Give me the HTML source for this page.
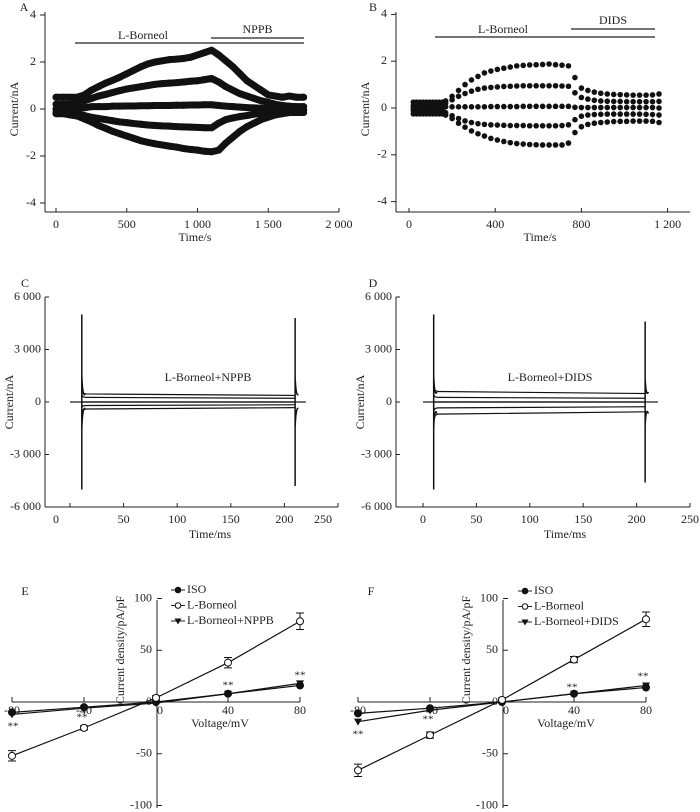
<!DOCTYPE html>
<html><head><meta charset="utf-8">
<style>
html,body{margin:0;padding:0;background:#fff;}
svg{display:block;font-family:"Liberation Serif",serif;}
</style></head>
<body>
<svg id="fig" width="700" height="812" viewBox="0 0 700 812" xmlns="http://www.w3.org/2000/svg"></svg>
<script>
// ---- Panel A data (time s, current nA) ----
const timesA = [0,50,100,150,200,250,300,350,400,450,500,550,600,650,700,750,800,850,900,950,1000,1050,1100,1150,1200,1250,1300,1350,1400,1450,1500,1550,1600,1650,1700,1750];
const a1 = [.5,.5,.5,.5,.6,.8,.95,1.1,1.22,1.35,1.5,1.65,1.8,1.92,2.0,2.05,2.1,2.12,2.15,2.2,2.3,2.4,2.5,2.3,2.05,1.8,1.5,1.2,1.0,.8,.6,.55,.5,.55,.5,.5];
const a2 = [.2,.2,.2,.25,.35,.45,.55,.62,.7,.78,.85,.9,.95,1.0,1.05,1.08,1.1,1.12,1.15,1.18,1.2,1.25,1.3,1.15,.95,.8,.65,.55,.45,.35,.28,.2,.15,.12,.1,.1];
const a3 = [0,.05,0,.05,.05,.1,.1,.1,.12,.12,.13,.13,.14,.14,.15,.15,.15,.16,.16,.17,.17,.18,.18,.15,.12,.1,.08,.06,.05,.03,0,-.05,0,.05,0,0];
const a4 = [-.15,-.15,-.15,-.2,-.28,-.35,-.4,-.45,-.5,-.55,-.58,-.62,-.65,-.68,-.7,-.72,-.73,-.75,-.76,-.77,-.78,-.8,-.8,-.6,-.45,-.38,-.32,-.28,-.22,-.18,-.12,-.1,-.08,-.06,-.05,-.05];
const a5 = [-.2,-.2,-.25,-.3,-.42,-.55,-.7,-.82,-.95,-1.05,-1.15,-1.25,-1.35,-1.42,-1.48,-1.53,-1.58,-1.62,-1.68,-1.72,-1.75,-1.8,-1.82,-1.75,-1.45,-1.2,-.95,-.75,-.6,-.45,-.35,-.25,-.2,-.15,-.15,-.15];
const ticksAx = [0,500,1000,1500,2000];
const tickLabelsAx = ["0","500","1 000","1 500","2 000"];
const ticksY4 = [4,2,0,-2,-4];
// ---- Panel B data ----
const timesB = [20,35,50,65,80,95,110,125,140,155,170,200,230,260,290,320,350,380,410,440,470,500,530,560,590,620,650,680,710,740,770,800,830,860,890,920,950,980,1010,1040,1070,1100,1130,1160];
const b1 = [.25,.25,.25,.25,.25,.25,.25,.25,.25,.25,.3,.5,.75,1.0,1.2,1.35,1.5,1.58,1.65,1.7,1.75,1.8,1.82,1.84,1.85,1.86,1.88,1.85,1.83,1.8,1.3,.85,.75,.68,.63,.6,.58,.57,.56,.55,.55,.55,.56,.6];
const b2 = [.1,.1,.1,.1,.1,.1,.1,.1,.12,.12,.2,.35,.5,.62,.72,.8,.85,.88,.9,.92,.93,.94,.95,.95,.95,.95,.95,.95,.94,.93,.65,.45,.38,.33,.3,.29,.28,.28,.27,.27,.27,.27,.27,.28];
const b3 = [0,.05,0,.05,0,.05,0,.05,0,.05,.05,.05,.05,.05,.05,.05,.05,.06,.06,.06,.06,.06,.07,.07,.07,.07,.07,.07,.07,.07,.03,.02,.02,.02,.02,.02,.02,.02,.02,.02,.02,.02,.02,0];
const b4 = [-.1,-.1,-.1,-.1,-.1,-.1,-.1,-.1,-.12,-.12,-.2,-.33,-.45,-.55,-.62,-.67,-.7,-.72,-.73,-.74,-.75,-.75,-.75,-.76,-.76,-.76,-.76,-.76,-.75,-.72,-.5,-.35,-.3,-.28,-.27,-.26,-.26,-.26,-.26,-.26,-.26,-.27,-.28,-.3];
const b5 = [-.25,-.25,-.25,-.25,-.25,-.25,-.25,-.25,-.25,-.25,-.3,-.45,-.65,-.82,-.98,-1.1,-1.2,-1.3,-1.37,-1.43,-1.48,-1.52,-1.54,-1.56,-1.57,-1.58,-1.58,-1.58,-1.58,-1.5,-1.05,-.8,-.7,-.65,-.62,-.6,-.58,-.57,-.57,-.56,-.56,-.56,-.57,-.62];
const ticksBx = [0,400,800,1200];
const tickLabelsBx = ["0","400","800","1 200"];
// ---- Panels C/D data ----
const levelsC = [440,250,0,-190,-380];
const levelsD = [570,250,0,-320,-660];
const spikeTimesC = [11,210];
const spikePeaksC = [5000,4800];
const spikeTimesD = [10,208];
const spikePeaksD = [5000,4600];
const ticksCDy = [6000,3000,0,-3000,-6000];
const tickLabelsCDy = ["6 000","3 000","0","-3 000","-6 000"];
const ticksCDx = [0,50,100,150,200,250];
// ---- Panels E/F data ----
const voltages = [-80,-40,0,40,80];
const isoE = [-10,-5,0,8,16];
const borE = [-52,-25,4,38,78];
const nppbE = [-12,-6,-1,8,18];
const errE = [5,2,2,5,8];
const isoF = [-11,-6,0,8,14];
const borF = [-66,-32,2,41,80];
const didsF = [-19,-8,0,8,16];
const errF = [6,3,2,3,7];
const ticksEFy = [100,50,0,-50,-100];

const NS = "http://www.w3.org/2000/svg";
const svg = document.getElementById('fig');
function el(tag, attrs, parent){
  const e = document.createElementNS(NS, tag);
  for (const k in attrs) e.setAttribute(k, attrs[k]);
  (parent||svg).appendChild(e);
  return e;
}
function txt(x,y,s,name,opts){
  opts = opts||{};
  const t = el('text',{x:x,y:y,'font-size':opts.fs||12,'text-anchor':opts.anchor||'middle','dominant-baseline':'middle',fill:'#222'});
  if (opts.rot) t.setAttribute('transform','rotate(-90 '+x+' '+y+')');
  t.textContent = s;
  
  
  return t;
}
function line(x1,y1,x2,y2,name,w){
  const l = el('line',{x1:x1,y1:y1,x2:x2,y2:y2,stroke:'#222','stroke-width':w||1});
  
  
  return l;
}

// ===== Panel A / B (time courses) =====
function timePanel(p){
  line(p.ax,12,p.ax,212,p.id+'-y-axis');
  line(p.ax,212,p.axEnd,212,p.id+'-x-axis');
  ticksY4.forEach(v=>{ line(p.ax-5,p.y(v),p.ax,p.y(v),p.id+'-y-tick'); txt(p.ax-9,p.y(v),String(v),p.id+'-y-tick-label',{anchor:'end'}); });
  p.xt.forEach((v,i)=>{ line(p.x(v),208,p.x(v),212,p.id+'-x-tick'); txt(p.x(v),225,p.xl[i],p.id+'-x-tick-label'); });
  txt(p.ax-30,109,'Current/nA',p.id+'-y-axis-title',{rot:true});
  txt(p.titleX,238,'Time/s',p.id+'-x-axis-title');
  txt(p.labX,8,p.id.toUpperCase(),'panel-label-'+p.id);
  p.series.forEach((s,si)=>{
    const pts = p.times.map((t,i)=>p.x(t)+','+p.y(s[i])).join(' ');
    if (p.thick){
      const pl = el('polyline',{points:pts,fill:'none',stroke:'#111','stroke-width':7,'stroke-linejoin':'round','stroke-linecap':'round'});
      
      
    }
    p.times.forEach((t,i)=>{
      const c = el('circle',{cx:p.x(t),cy:p.y(s[i]),r:p.thick?3.5:2.8,fill:'#111'});
      
      
    });
  });
  line(p.bar1[0],p.bar1[2],p.bar1[1],p.bar1[2],p.id+'-l-borneol-bar',1.3);
  line(p.bar2[0],p.bar2[2],p.bar2[1],p.bar2[2],p.id+'-'+p.drug.toLowerCase()+'-bar',1.3);
  txt((p.bar1[0]+p.bar2[0])/2,p.bar1[2]-7,'L-Borneol',p.id+'-l-borneol-label');
  txt((p.bar2[0]+p.bar2[1])/2,p.bar2[2]-8,p.drug,p.id+'-drug-label');
}
timePanel({id:'a',ax:45,axEnd:339,x:t=>56+t*0.1415,y:v=>109-v*23.5,xt:ticksAx,xl:tickLabelsAx,titleX:195,labX:24,
  times:timesA,series:[a1,a2,a3,a4,a5],thick:true,bar1:[75,304,43],bar2:[211,304,38],drug:'NPPB'});
timePanel({id:'b',ax:396,axEnd:690,x:t=>409+t*0.2155,y:v=>108-v*23.4,xt:ticksBx,xl:tickLabelsBx,titleX:540,labX:373,
  times:timesB,series:[b1,b2,b3,b4,b5],thick:false,bar1:[435,655,37],bar2:[571,655,29],drug:'DIDS'});

// ===== Panel C / D (current traces) =====
function tracePanel(p){
  const y = v=>402-v*0.0175;
  line(p.ax,297,p.ax,507,p.id+'-y-axis');
  line(p.ax,507,p.axEnd,507,p.id+'-x-axis');
  ticksCDy.forEach((v,i)=>{ line(p.ax,y(v),p.ax+4,y(v),p.id+'-y-tick'); txt(p.ax-4,y(v),tickLabelsCDy[i],p.id+'-y-tick-label',{anchor:'end'}); });
  ticksCDx.forEach((v,i)=>{ line(p.x(v),503,p.x(v),507,p.id+'-x-tick'); txt(p.lx?p.lx(v,i):p.x(v),520,String(v),p.id+'-x-tick-label'); });
  txt(p.ax-35,402,'Current/nA',p.id+'-y-axis-title',{rot:true});
  txt(p.titleX,535,'Time/ms',p.id+'-x-axis-title');
  txt(p.labX,284,p.id.toUpperCase(),'panel-label-'+p.id);
  txt(p.textX,378,p.title,p.id+'-condition-label');
  const t0 = p.sp[0], t1 = p.sp[1];
  line(p.x(0),y(0),p.x(220),y(0),p.id+'-baseline-trace',1.3);
  p.levels.forEach((L,i)=>{
    const d = 'M'+p.x(t0)+','+y(L*1.6)+' L'+p.x(t0+1.5)+','+y(L*1.15)+' L'+p.x(t0+4)+','+y(L*1.05)+' L'+p.x(t1)+','+y(L*0.85);
    const pa = el('path',{d:d,fill:'none',stroke:'#111','stroke-width':1.2});
    
    
  });
  p.sp.forEach((t,i)=>{
    const pk = p.pk[i];
    const d = 'M'+p.x(t)+','+y(pk)+' L'+p.x(t)+','+y(-pk)+' M'+p.x(t)+','+y(pk*0.3)+' Q'+p.x(t+0.8)+','+y(pk*0.05)+' '+p.x(t+3)+','+y(p.levels[0])
      +' M'+p.x(t)+','+y(-pk*0.3)+' Q'+p.x(t+0.8)+','+y(-pk*0.05)+' '+p.x(t+3)+','+y(p.levels[4]);
    const pa = el('path',{d:d,fill:'none',stroke:'#111','stroke-width':1.5});
    
    
  });
}
tracePanel({id:'c',ax:45,axEnd:338,x:t=>70+t*1.072,lx:(v,i)=>i===0?56:(i===5?323:70+v*1.072),titleX:210,labX:25,textX:208,
  title:'L-Borneol+NPPB',levels:levelsC,sp:spikeTimesC,pk:spikePeaksC});
tracePanel({id:'d',ax:396,axEnd:690,x:t=>423+t*1.068,titleX:565,labX:373,textX:550,
  title:'L-Borneol+DIDS',levels:levelsD,sp:spikeTimesD,pk:spikePeaksD});

// ===== Panel E / F (I-V curves) =====
function ivPanel(p){
  const y = c=>702-c*1.035;
  line(p.x(0)+1,600,p.x(0)+1,808,p.id+'-y-axis');
  line(p.x(-80),702,p.x(80),702,p.id+'-x-axis');
  ticksEFy.forEach(v=>{ line(p.x(0)+1,y(v),p.x(0)+6,y(v),p.id+'-y-tick'); txt(p.x(0)-4,y(v),String(v),p.id+'-y-tick-label',{anchor:'end'}); });
  voltages.forEach(v=>{ line(p.x(v),697,p.x(v),702,p.id+'-x-tick'); txt(p.x(v)+(v===0?4:0),711,String(v),p.id+'-x-tick-label'); });
  txt(p.x(0)-35,650,'Current density/pA/pF',p.id+'-y-axis-title',{rot:true});
  txt(p.x(0)+64,724,'Voltage/mV',p.id+'-x-axis-title');
  txt(p.labX,592,p.id.toUpperCase(),'panel-label-'+p.id);
  const series = [[p.iso,'iso','circle',true],[p.third,'drug','tri',true],[p.bor,'l-borneol','circle',false]];
  series.forEach(s=>{
    const pts = voltages.map((v,i)=>p.x(v)+','+y(s[0][i])).join(' ');
    const pl = el('polyline',{points:pts,fill:'none',stroke:'#111','stroke-width':1.2});
    
    
    voltages.forEach((v,i)=>{
      const cx = p.x(v), cy = y(s[0][i]);
      if (s[1]==='l-borneol'){
        const e = p.err[i];
        const eb = el('path',{d:'M'+cx+','+y(s[0][i]+e)+' V'+y(s[0][i]-e)+' M'+(cx-4)+','+y(s[0][i]+e)+' h8 M'+(cx-4)+','+y(s[0][i]-e)+' h8',stroke:'#111','stroke-width':1,fill:'none'});
        
        
      }
      let m;
      if (s[2]==='tri') m = el('path',{d:'M'+(cx-4)+','+(cy-3)+' h8 L'+cx+','+(cy+4)+' Z',fill:'#111'});
      else m = el('circle',{cx:cx,cy:cy,r:3.5,fill:s[3]?'#111':'#fff',stroke:'#111','stroke-width':1});
      
      
    });
  });
  p.stars.forEach(st=>{ txt(st[0],st[1],'**',p.id+'-significance-mark',{fs:11}); });
  const lx = p.legX, rows = [['ISO','circle',true],['L-Borneol','circle',false],[p.drugLabel,'tri',true]];
  rows.forEach((r,i)=>{
    const ly = p.legY + i*15.5;
    line(lx-7,ly,lx+7,ly,p.id+'-legend-line');
    let m;
    if (r[1]==='tri') m = el('path',{d:'M'+(lx-3.5)+','+(ly-2.5)+' h7 L'+lx+','+(ly+3.5)+' Z',fill:'#111'});
    else m = el('circle',{cx:lx,cy:ly,r:2.8,fill:r[2]?'#111':'#fff',stroke:'#111','stroke-width':1});
    
    
    txt(lx+9,ly,r[0],p.id+'-legend-entry',{anchor:'start'});
  });
}
ivPanel({id:'e',x:v=>156+v*1.8,labX:25,iso:isoE,bor:borE,third:nppbE,err:errE,drugLabel:'L-Borneol+NPPB',legX:178,legY:590,
  stars:[[13,727],[82,718],[228,686],[300,676]]});
ivPanel({id:'f',x:v=>502+v*1.8,labX:371,iso:isoF,bor:borF,third:didsF,err:errF,drugLabel:'L-Borneol+DIDS',legX:525,legY:591,
  stars:[[358,735],[428,720],[572,688],[643,677]]});
</script>
</body></html>
